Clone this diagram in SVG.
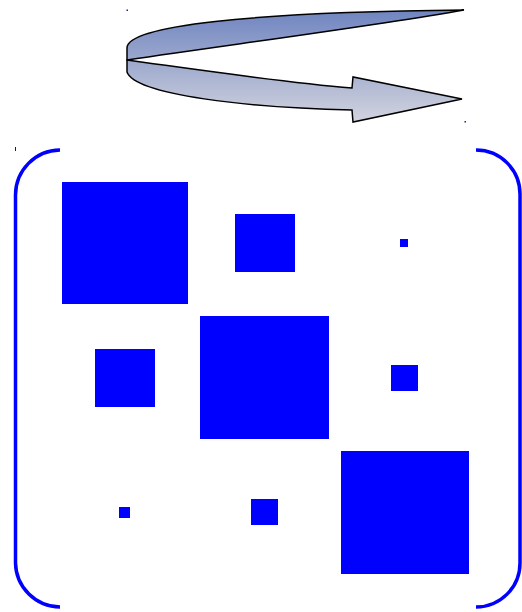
<svg xmlns="http://www.w3.org/2000/svg" width="522" height="612" viewBox="0 0 522 612">
<defs>
<linearGradient id="g" gradientUnits="userSpaceOnUse" x1="0" y1="10" x2="0" y2="122">
<stop offset="0" stop-color="#6f84c0"/>
<stop offset="1" stop-color="#d2d4de"/>
</linearGradient>
<style>
.sq{fill:#0000ff}
.br{fill:none;stroke:#0000ff;stroke-width:3.5}
.ar{fill:url(#g);stroke:#000;stroke-width:1.5;stroke-linejoin:miter}
.dot{fill:#1a237e}
</style>
</defs>
<rect width="522" height="612" fill="#fff"/>
<g id="arrow">
<path class="ar" d="M127,60 L127,48 C127,26 250,12 464,10 C380,25 250,42 127,60 Z"/>
<path class="ar" d="M127,60 L127,72 C135,95 250,108 352,110 L353,122 L462,99 L353,77 L352,88 C280,82 200,70 127,60 Z"/>
<rect class="dot" x="126.5" y="9.5" width="1.5" height="1.5"/>
<rect class="dot" x="464.5" y="121" width="1.5" height="1.5"/>
</g>
<g id="brackets">
<path class="br" d="M60,150 A45,45 0 0 0 15.5,195 L15.5,563 A45,45 0 0 0 60,607"/>
<path class="br" d="M476,150 A44,44 0 0 1 520,194 L520,563 A44,44 0 0 1 476,607"/>
<rect x="15" y="147" width="1" height="4" fill="#0000ff"/>
</g>
<g id="squares">
<rect id="s11" class="sq" x="62" y="182" width="126" height="122"/>
<rect id="s12" class="sq" x="235" y="214" width="60" height="58"/>
<rect id="s13" class="sq" x="400" y="239" width="8" height="8"/>
<rect id="s21" class="sq" x="95" y="349" width="60" height="58"/>
<rect id="s22" class="sq" x="200" y="316" width="129" height="123"/>
<rect id="s23" class="sq" x="391" y="365" width="27" height="26"/>
<rect id="s31" class="sq" x="119" y="507" width="11" height="11"/>
<rect id="s32" class="sq" x="251" y="499" width="27" height="26"/>
<rect id="s33" class="sq" x="341" y="451" width="128" height="123"/>
</g>
</svg>
